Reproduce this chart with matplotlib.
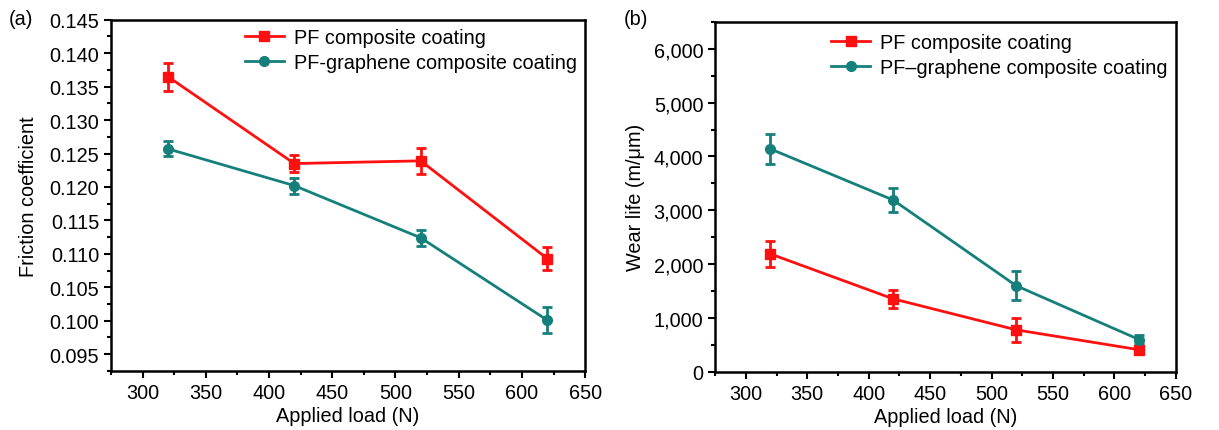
import matplotlib
matplotlib.use("Agg")
import matplotlib.pyplot as plt
from matplotlib.ticker import MultipleLocator, FuncFormatter
from matplotlib.lines import Line2D

plt.rcParams['font.family'] = ['Liberation Sans', 'DejaVu Sans']

loads = [320, 420, 520, 620]

pf_friction = [0.1365, 0.1235, 0.1239, 0.1093]
pf_friction_err = [0.0021, 0.0013, 0.0019, 0.0017]
gr_friction = [0.1257, 0.1202, 0.1124, 0.1001]
gr_friction_err = [0.0011, 0.0012, 0.0012, 0.0019]

pf_wear = [2190, 1355, 780, 410]
pf_wear_err = [245, 165, 220, 55]
gr_wear = [4140, 3190, 1600, 600]
gr_wear_err = [280, 225, 265, 75]

label_pf = "PF composite coating"
label_gr_a = "PF-graphene composite coating"
label_gr_b = "PF\u2013graphene composite coating"

RED = "#ff1010"
TEAL = "#15807b"
FS = 14.3

fig = plt.figure(figsize=(12.19, 4.31), dpi=100)
ax1 = fig.add_axes([0.091, 0.137, 0.389, 0.815])
ax2 = fig.add_axes([0.5866, 0.135, 0.378, 0.812])

def style(ax):
    for s in ax.spines.values():
        s.set_linewidth(1.8)
    ax.tick_params(which='major', direction='out', length=5, width=1.5, labelsize=FS)
    ax.tick_params(which='minor', direction='out', length=3, width=1.5)
    ax.tick_params(top=False, right=False)

def draw(ax, y1, e1, y2, e2, lab2, anchor):
    ax.errorbar(loads, y1, yerr=e1, color=RED, marker='s', markersize=7,
                linewidth=2, elinewidth=2, capsize=3.6, capthick=2)
    ax.errorbar(loads, y2, yerr=e2, color=TEAL, marker='o', markersize=7,
                linewidth=2, elinewidth=2, capsize=3.6, capthick=2)
    handles = [Line2D([], [], color=RED, marker='s', markersize=7, linewidth=2),
               Line2D([], [], color=TEAL, marker='o', markersize=7, linewidth=2)]
    ax.legend(handles, [label_pf, lab2], loc='upper right', frameon=False,
              fontsize=FS, handlelength=2.0, handletextpad=0.5,
              borderaxespad=0.0, labelspacing=0.3, bbox_to_anchor=anchor)

draw(ax1, pf_friction, pf_friction_err, gr_friction, gr_friction_err, label_gr_a, (1.0, 1.0))
ax1.set_xlim(275, 650)
ax1.set_ylim(0.0925, 0.145)
ax1.xaxis.set_major_locator(MultipleLocator(50))
ax1.xaxis.set_minor_locator(MultipleLocator(25))
ax1.yaxis.set_major_locator(MultipleLocator(0.005))
ax1.yaxis.set_minor_locator(MultipleLocator(0.0025))
ax1.yaxis.set_major_formatter(FuncFormatter(lambda v, p: f"{v:.3f}"))
ax1.set_xlabel("Applied load (N)", fontsize=FS, labelpad=3)
ax1.set_ylabel("Friction coefficient", fontsize=FS, labelpad=8)
style(ax1)

draw(ax2, pf_wear, pf_wear_err, gr_wear, gr_wear_err, label_gr_b, (1.0, 0.99))
ax2.set_xlim(275, 650)
ax2.set_ylim(0, 6500)
ax2.xaxis.set_major_locator(MultipleLocator(50))
ax2.xaxis.set_minor_locator(MultipleLocator(25))
ax2.yaxis.set_major_locator(MultipleLocator(1000))
ax2.yaxis.set_minor_locator(MultipleLocator(500))
ax2.yaxis.set_major_formatter(FuncFormatter(lambda v, p: f"{int(v):,}"))
ax2.set_xlabel("Applied load (N)", fontsize=FS, labelpad=3)
ax2.set_ylabel("Wear life (m/\u03bcm)", fontsize=FS, labelpad=6)
style(ax2)

fig.text(0.007, 0.955, "(a)", fontsize=FS, va='center', ha='left')
fig.text(0.512, 0.955, "(b)", fontsize=FS, va='center', ha='left')

fig.savefig("out.png", dpi=100)
